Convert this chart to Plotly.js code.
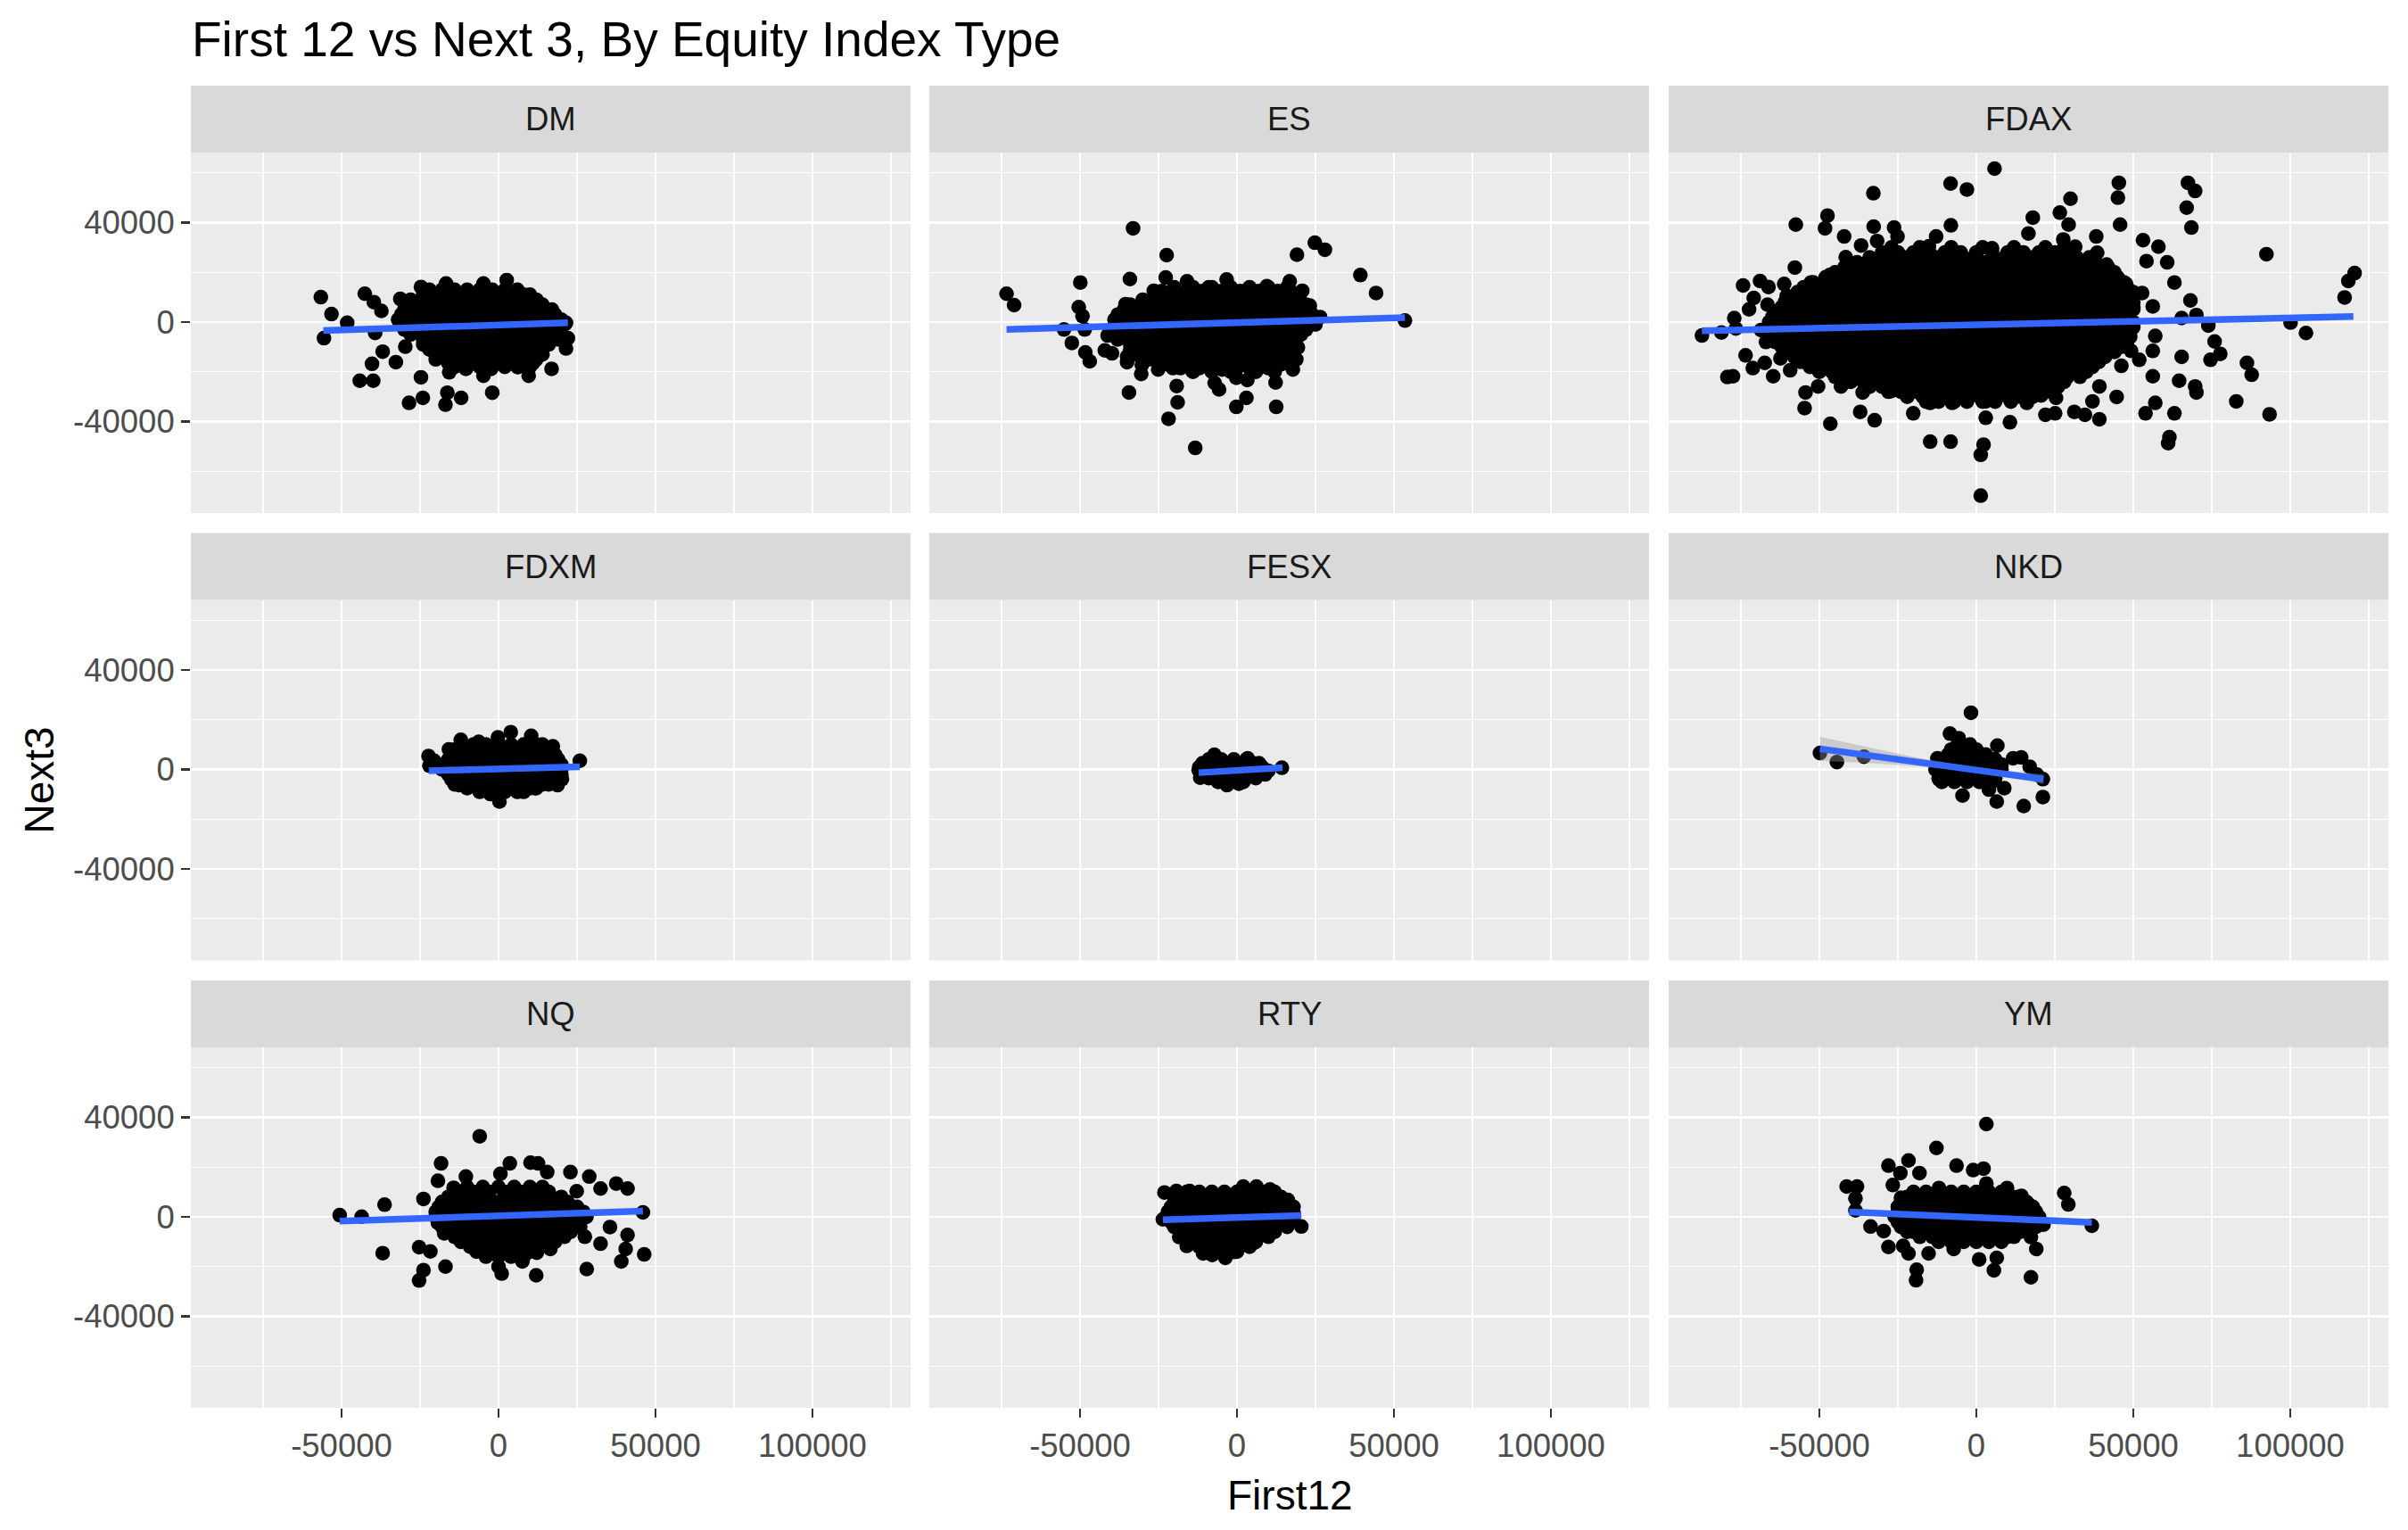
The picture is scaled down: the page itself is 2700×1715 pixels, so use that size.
<!DOCTYPE html>
<html>
<head>
<meta charset="utf-8">
<script src="https://cdn.plot.ly/plotly-3.0.1.min.js"></script>
<style>
  html, body { margin: 0; padding: 0; background: #fff; }
  #chart { width: 2700px; height: 1715px; }
</style>
</head>
<body>
<div id="chart"></div>
<script>
// values are in thousands (First12, Next3)
var panelNames = ['DM', 'ES', 'FDAX', 'FDXM', 'FESX', 'NKD', 'NQ', 'RTY', 'YM'];

// scattered points [x, y]
var dmPts = [[-56.6,10.0],[-53.2,3.2],[-55.6,-6.5],[-48.2,-0.3],[-42.6,11.4],[-39.7,8.0],[-44.2,-23.6],[-39.9,-23.6],
  [-40.3,-16.8],[-36.9,-11.9],[-32.7,-16.1],[-29.7,-9.9],[-28.5,-32.5],[-24.1,-30.5],[-16.9,-33.2],[-16.3,-28.4],
  [-11.9,-30.5],[-2.0,-28.4],[-24.7,-22.2],[-15.7,-20.2],[-10.4,-18.8],[-4.8,-21.6],[-2.4,-18.8],[6.2,-18.1],
  [9.6,-21.6],[16.9,-18.8],[21.5,-10.6],[22.1,-6.5],[21.5,-0.3],[12.2,8.7],[2.6,16.9],[-4.8,15.5],[-16.7,15.5],
  [-24.7,14.1],[-31.3,9.3],[-37.3,4.5],[-39.3,-4.4],[-31.3,-1.0]];
var esPts = [[-73.4,11.4],[-71.0,6.8],[-33.1,37.7],[-22.4,26.9],[-34.1,17.3],[-49.9,15.9],[-50.4,6.0],[-49.2,2.4],
  [-55.1,-3.0],[-52.6,-8.4],[-48.3,-12.2],[-46.9,-15.8],[-48.5,-3.0],[-42.1,-11.4],[-39.8,-12.6],[-35.0,-13.8],
  [-35.0,-16.1],[-34.4,-28.3],[-30.5,-20.9],[-30.3,-17.3],[-25.1,-19.1],[-20.4,-18.5],[-19.2,-25.7],[-18.9,-32.3],
  [-21.8,-38.9],[-13.3,-50.6],[-14.2,-19.7],[-7.1,-24.5],[-5.7,-27.1],[-4.7,-19.1],[-0.2,-22.4],[3.3,-23.3],
  [3.0,-30.5],[-0.2,-34.1],[9.0,-17.9],[12.3,-24.3],[12.5,-34.1],[17.8,-19.1],[18.9,-15.0],[19.4,-10.2],
  [20.4,-5.0],[24.6,0.6],[26.5,2.0],[23.2,6.6],[20.8,12.6],[16.8,16.4],[9.5,14.4],[19.1,27.1],[24.8,31.9],
  [28.0,29.1],[39.3,18.9],[44.3,11.7],[53.5,0.6],[-3.3,17.1],[-15.9,16.4],[-9.0,14.0],[-22.7,17.9],[-26.5,12.6],
  [-35.5,7.2],[-37.9,1.8],[-41.2,-5.4],[3.8,13.2],[14.2,11.4]];
var fdaxPts = [[5.8,61.7],[-8.2,55.7],[-3.0,53.3],[-32.8,51.8],[45.4,56.0],[45.1,50.0],[67.4,56.0],[69.7,52.7],
  [67.0,46.0],[68.5,38.0],[45.8,39.2],[30.0,49.6],[26.6,44.0],[29.4,39.2],[18.0,42.0],[-8.1,38.9],[-32.7,38.4],
  [-47.4,42.8],[-48.2,37.7],[-57.5,39.2],[-42.1,34.4],[-26.2,38.0],[-25.1,34.4],[-12.8,34.4],[-57.8,21.9],
  [92.4,27.3],[120.5,19.7],[118.5,16.5],[117.3,9.9],[53.1,32.9],[58.0,30.3],[54.2,24.5],[60.8,24.0],[38.2,34.4],
  [38.5,27.9],[41.5,23.1],[63.1,15.9],[68.2,8.7],[70.1,2.8],[73.9,-1.4],[100.1,-0.2],[105.0,-4.4],[75.9,-7.8],
  [77.7,-12.8],[74.6,-15.2],[86.2,-16.4],[87.7,-21.2],[82.8,-31.9],[93.4,-37.1],[70.1,-28.3],[69.7,-25.9],
  [64.6,-23.6],[63.1,-36.7],[61.5,-46.3],[61.1,-48.7],[57.0,-32.5],[53.9,-36.7],[56.2,-21.8],[51.9,-15.2],
  [56.2,-11.6],[57.0,-5.6],[65.4,-14.0],[65.4,1.6],[39.2,-39.1],[34.6,-37.3],[31.2,-36.1],[37.0,-31.9],
  [25.1,-36.7],[22.0,-37.3],[25.4,-30.5],[10.7,-40.3],[3.0,-38.5],[2.3,-49.3],[1.4,-53.4],[1.4,-69.8],
  [-8.2,-48.1],[-14.7,-48.1],[-20.1,-36.7],[-32.4,-39.5],[-37.0,-36.1],[-46.5,-40.9],[-54.7,-34.6],[-54.4,-28.3],
  [-50.4,-25.9],[-42.9,-25.3],[-64.7,-21.8],[-77.5,-21.8],[-79.3,-22.1],[-71.2,-18.5],[-67.4,-16.4],[-73.5,-13.4],
  [-87.4,-5.4],[-81.2,-4.2],[-76.6,-2.6],[-77.1,1.6],[-72.4,5.1],[-70.9,9.7],[-74.3,14.7],[-68.9,16.5],
  [-66.2,14.1],[-61.2,15.3],[-60.4,10.5],[-66.5,7.0],[-52.7,15.9],[-46.7,18.9],[-41.6,26.1],[-39.3,23.1],
  [-36.7,30.8],[-31.6,32.6],[-15.1,30.5],[5.0,29.7],[16.6,35.6],[27.7,33.2],[31.5,30.3],[52.8,11.7],[56.2,6.3],
  [47.7,15.3],[50.0,5.1],[47.0,-8.0],[49.3,-11.6],[46.2,-17.6],[44.7,-30.1],[39.2,-25.9],[20.7,-29.5],
  [16.1,-32.5],[3.0,-31.9],[-7.7,-32.5],[-14.7,-32.5],[-27.0,-27.7],[-36.2,-28.3],[-43.1,-25.9],[-59.3,-19.4],
  [-62.4,-14.6],[-67.0,-8.0],[-68.6,-3.2],[-56.3,10.5]];
var fdxmPts = [[-22.3,5.4],[-20.5,3.5],[-22.0,1.5],[-12.0,11.9],[-15.8,8.1],[-0.2,12.9],[3.9,15.0],[10.4,13.5],
  [17.3,9.3],[25.9,3.5],[20.2,-3.9],[18.8,-6.3],[11.6,-7.5],[0.3,-12.9],[-2.6,-9.9],[-12.5,-6.3],[-13.9,-3.9],
  [-6.3,11.1]];
var fesxPts = [[-12.2,-0.3],[-11.7,-3.3],[-7.2,5.9],[-3.2,-6.3],[0.6,-5.7],[7.2,2.1],[14.3,0.7],[3.4,4.5]];
var nkdPts = [[-49.8,6.6],[-44.4,3.0],[-35.8,5.1],[-1.7,22.8],[-8.4,14.4],[-5.6,12.6],[-12.4,4.5],[-11.9,-3.9],
  [-4.4,-10.5],[6.7,9.6],[11.7,4.5],[14.3,4.8],[17.0,1.1],[21.2,-3.9],[19.3,-2.1],[8.9,-7.5],[4.0,-8.1],
  [6.5,-12.9],[15.1,-14.7],[21.2,-11.1],[3.2,-2.7]];
var nqPts = [[-50.6,0.7],[-43.6,0.1],[-36.3,4.9],[-36.9,-14.6],[-25.3,-12.2],[-21.7,-13.9],[-23.9,-21.4],
  [-25.3,-25.6],[-16.9,-20.0],[-23.9,7.2],[-18.3,21.5],[-19.3,14.5],[-10.4,16.2],[-6.0,32.4],[3.6,21.5],
  [0.6,17.3],[10.2,21.8],[12.6,21.5],[15.5,18.0],[22.9,18.0],[28.9,16.2],[32.5,11.4],[37.5,13.4],[41.1,11.4],
  [46.0,1.8],[24.9,10.3],[35.5,-4.1],[41.1,-7.3],[32.5,-10.8],[40.5,-12.9],[39.1,-17.9],[46.4,-15.1],
  [28.1,-21.0],[27.5,-8.0],[12.0,-23.5],[7.6,-17.9],[1.0,-22.8],[0.0,-20.0],[12.2,-14.4],[16.5,-12.9],
  [-17.3,-6.6],[-19.3,-2.4],[-14.3,11.7]];
var rtyPts = [[-23.1,9.8],[-19.3,10.4],[-15.1,10.4],[-23.6,-1.0],[-18.4,-8.1],[-16.0,-11.7],[-10.8,-14.7],
  [-7.9,-15.3],[-3.7,-16.5],[-0.9,-14.1],[5.3,-10.5],[10.0,-7.5],[14.8,-2.8],[20.5,-3.9],[16.2,6.8],[10.5,11.0],
  [6.2,12.2],[2.0,12.2],[0.1,8.0],[-9.4,8.6]];
var ymPts = [[-41.3,12.2],[-38.0,12.2],[-38.5,7.4],[-38.5,2.6],[-33.7,-3.9],[-29.5,-5.7],[-28.0,-12.1],
  [-23.3,-11.7],[-21.6,-14.7],[-19.0,-21.3],[-19.2,-25.5],[-15.2,-14.7],[-7.2,-12.9],[0.9,-17.1],[5.6,-21.5],
  [6.5,-16.5],[17.4,-24.3],[19.1,-12.9],[17.4,-8.1],[21.4,-3.1],[36.8,-3.6],[28.0,9.6],[29.3,5.0],[16.7,5.0],
  [14.4,8.4],[9.8,11.6],[3.2,37.3],[2.3,19.4],[-1.0,18.8],[-6.3,20.6],[-12.7,27.7],[-21.6,22.7],[-28.0,20.6],
  [-24.2,17.6],[-18.1,17.6],[-26.6,12.8],[-24.0,7.7],[-11.9,11.6],[3.2,13.4]];

// dense cores, read as rows: [y, [x, x, ...]]
var dmCore = [
  [13, [-22,-18,-14,-10,-6,-2,2,6]],
  [11, [-24,-20,-16,-12,-8,-4,0,4,8,10]],
  [9, [-28,-24,-20,-16,-12,-8,-4,0,4,8,12]],
  [7, [-28,-26,-22,-18,-14,-10,-6,-2,2,6,10,14]],
  [5, [-30,-26,-22,-18,-14,-10,-6,-2,2,6,10,14,17]],
  [3, [-31,-30,-26,-22,-18,-14,-10,-6,-2,2,6,10,14,18]],
  [1, [-32,-28,-24,-20,-16,-12,-8,-4,0,4,8,12,16,20]],
  [-1, [-31,-30,-26,-22,-18,-14,-10,-6,-2,2,6,10,14,18,21]],
  [-3, [-30,-26,-22,-18,-14,-10,-6,-2,2,6,10,14,18]],
  [-5, [-28,-24,-20,-16,-12,-8,-4,0,4,8,12,16,19]],
  [-7, [-24,-20,-16,-12,-8,-4,0,4,8,12,16,19]],
  [-9, [-24,-20,-16,-12,-8,-4,0,4,8,12,16]],
  [-11, [-22,-18,-14,-10,-6,-2,2,6,10,14]],
  [-13, [-20,-16,-12,-8,-4,0,4,8,12,14]],
  [-15, [-20,-16,-12,-8,-4,0,4,8,12]],
  [-16.5, [-16,-12,-8,-4,0,4,8,11]],
  [-18, [-14,-10,-6,-2,2,6,10]]];
var esCore = [
  [14, [-20,-14,-8,-2,4,10,16]],
  [12.5, [-24,-16,-11,-5,1,7,13,17]],
  [11, [-26,-22,-18,-14,-10,-6,-2,2,6,10,14,18]],
  [9, [-30,-24,-20,-16,-12,-8,-4,0,4,8,12,16,20]],
  [7, [-34,-30,-26,-22,-18,-14,-10,-6,-2,2,6,10,14,18,22]],
  [5, [-36,-32,-28,-24,-20,-16,-12,-8,-4,0,4,8,12,16,20,23]],
  [3, [-38,-36,-32,-28,-24,-20,-16,-12,-8,-4,0,4,8,12,16,20,24]],
  [1, [-39,-34,-30,-26,-22,-18,-14,-10,-6,-2,2,6,10,14,18,22,25]],
  [-1, [-38,-34,-30,-26,-22,-18,-14,-10,-6,-2,2,6,10,14,18,22,25]],
  [-3, [-40,-38,-34,-30,-26,-22,-18,-14,-10,-6,-2,2,6,10,14,18,22]],
  [-5, [-40,-36,-32,-28,-24,-20,-16,-12,-8,-4,0,4,8,12,16,19]],
  [-7, [-38,-34,-30,-26,-22,-18,-14,-10,-6,-2,2,6,10,14,18]],
  [-9, [-34,-30,-26,-22,-18,-14,-10,-6,-2,2,6,10,14,18]],
  [-11, [-34,-30,-26,-22,-18,-14,-10,-6,-2,2,6,10,14,17]],
  [-13, [-32,-28,-24,-20,-16,-12,-8,-4,0,4,8,12,16]],
  [-15, [-28,-24,-20,-16,-12,-8,-4,0,4,8,12,16]],
  [-17, [-22,-18,-14,-10,-6,-2,2,6,10,14]],
  [-18.5, [-18,-12,-6,0,4,10]],
  [-20, [-14,-8,-2,6,12]]];
var fdaxCore = [
  [30, [-27,-18,-8,2,12,22,28]],
  [28, [-30,-25,-20,-15,-10,-5,0,5,10,15,20,25,30]],
  [26, [-34,-31,-27,-22,-18,-13,-9,-4,0,5,9,14,18,23,27,32,36]],
  [24, [-38,-33,-29,-24,-20,-15,-11,-6,-2,3,7,12,16,21,25,30,34,38]],
  [22, [-42,-38,-34,-29,-25,-20,-16,-11,-7,-2,2,7,11,16,20,25,29,34,38,42]],
  [20, [-45,-41,-36,-32,-27,-23,-18,-14,-9,-5,0,4,9,13,18,22,27,31,36,40,44]],
  [18, [-48,-45,-40,-36,-31,-27,-22,-18,-13,-9,-4,0,5,9,14,18,23,27,32,36,41,45]],
  [16, [-52,-47,-43,-38,-34,-29,-25,-20,-16,-11,-7,-2,2,7,11,16,20,25,29,34,38,43,47]],
  [14, [-55,-50,-46,-41,-37,-32,-28,-23,-19,-14,-10,-5,-1,4,8,13,17,22,26,31,35,40,44,48]],
  [12, [-57,-53,-48,-44,-39,-35,-30,-26,-21,-17,-12,-8,-3,1,6,10,15,19,24,28,33,37,42,46,50]],
  [10, [-59,-54,-50,-45,-41,-36,-32,-27,-23,-18,-14,-9,-5,0,4,9,13,18,22,27,31,36,40,45,49]],
  [8, [-61,-56,-52,-47,-43,-38,-34,-29,-25,-20,-16,-11,-7,-2,2,7,11,16,20,25,29,34,38,43,47,50]],
  [6, [-62,-58,-54,-49,-45,-40,-36,-31,-27,-22,-18,-13,-9,-4,0,5,9,14,18,23,27,32,36,41,45,50]],
  [4, [-64,-60,-55,-51,-46,-42,-37,-33,-28,-24,-19,-15,-10,-6,-1,3,8,12,17,21,26,30,35,39,44,48]],
  [2, [-65,-60,-56,-51,-47,-42,-38,-33,-29,-24,-20,-15,-11,-6,-2,3,7,12,16,21,25,30,34,39,43,48]],
  [0, [-66,-62,-57,-53,-48,-44,-39,-35,-30,-26,-21,-17,-12,-8,-3,1,6,10,15,19,24,28,33,37,42,46,50]],
  [-2, [-66,-61,-57,-52,-48,-43,-39,-34,-30,-25,-21,-16,-12,-7,-3,2,6,11,15,20,24,29,33,38,42,47,50]],
  [-4, [-66,-64,-59,-55,-50,-46,-41,-37,-32,-28,-23,-19,-14,-10,-5,-1,4,8,13,17,22,26,31,35,40,44,49]],
  [-6, [-65,-62,-57,-53,-48,-44,-39,-35,-30,-26,-21,-17,-12,-8,-3,1,6,10,15,19,24,28,33,37,42,46,49]],
  [-8, [-64,-60,-55,-51,-46,-42,-37,-33,-28,-24,-19,-15,-10,-6,-1,3,8,12,17,21,26,30,35,39,44,48]],
  [-10, [-62,-58,-53,-49,-44,-40,-35,-31,-26,-22,-17,-13,-8,-4,1,5,10,14,19,23,28,32,37,41,46]],
  [-12, [-60,-56,-51,-47,-42,-38,-33,-29,-24,-20,-15,-11,-6,-2,3,7,12,16,21,25,30,34,39,44]],
  [-14, [-58,-54,-49,-45,-40,-36,-31,-27,-22,-18,-13,-9,-4,0,5,9,14,18,23,27,32,37,41]],
  [-16, [-56,-52,-47,-43,-38,-34,-29,-25,-20,-16,-11,-7,-2,2,7,11,16,20,25,29,34,39]],
  [-18, [-53,-49,-44,-40,-35,-31,-26,-22,-17,-13,-8,-4,1,5,10,14,19,23,28,32,37]],
  [-20, [-50,-46,-41,-37,-32,-28,-23,-19,-14,-10,-5,-1,4,8,13,17,22,26,31,35]],
  [-22, [-45,-43,-39,-34,-30,-25,-21,-16,-12,-7,-3,2,6,11,15,20,24,29,33]],
  [-24, [-40,-36,-31,-27,-22,-18,-13,-9,-4,0,5,9,14,18,23,28]],
  [-26, [-34,-30,-26,-21,-17,-12,-8,-3,1,6,10,15,19,24,26]],
  [-28, [-28,-24,-19,-15,-10,-6,-1,3,8,12,17,22]],
  [-30, [-22,-17,-13,-8,-4,1,5,10,14,18]],
  [-32, [-16,-12,-7,-3,2,6,11]]];
var fdxmCore = [
  [10, [-12,-8,-4,0,4,8,12,14]],
  [8, [-14,-10,-6,-2,2,6,10,14,16]],
  [6, [-14,-10,-6,-2,2,6,10,14,18]],
  [4, [-16,-12,-8,-4,0,4,8,12,16,19]],
  [2, [-18,-14,-10,-6,-2,2,6,10,14,18,20]],
  [0, [-18,-16,-12,-8,-4,0,4,8,12,16,20]],
  [-2, [-16,-12,-8,-4,0,4,8,12,16,20]],
  [-4, [-15,-14,-10,-6,-2,2,6,10,14,18]],
  [-6, [-14,-10,-6,-2,2,6,10,14,16]],
  [-7.5, [-10,-6,-2,2,6,10,12]],
  [-9, [-6,-2,2,6,8]]];
var fesxCore = [
  [4, [-9,-5,-1,3]],
  [2.5, [-11,-7,-3,1,5,7]],
  [1, [-12,-8,-4,0,4,8]],
  [-0.5, [-12,-10,-6,-2,2,6,10]],
  [-2, [-11,-7,-3,1,5,9]],
  [-3.5, [-9,-5,-1,3,6]],
  [-5, [-6,-2,2]]];
var nkdCore = [
  [10, [-6,-2]],
  [8, [-8,-4,0]],
  [6, [-9,-5,-1,3]],
  [4, [-10,-7,-3,1,5,6]],
  [2, [-12,-8,-4,0,4,8]],
  [0, [-13,-10,-6,-2,2,6,8]],
  [-2, [-12,-10,-6,-2,2,6]],
  [-3.5, [-12,-9,-5,-1,3,6]],
  [-5, [-11,-7,-3,1,5]]];
var nqCore = [
  [12, [-10,-5,0,5,10,14]],
  [10, [-13,-8,-3,2,7,12,16]],
  [8, [-16,-12,-7,-3,2,6,11,15,20]],
  [6, [-18,-14,-9,-5,0,4,9,13,18,22]],
  [4, [-19,-15,-10,-6,-1,3,8,12,17,21,25]],
  [2, [-20,-17,-13,-8,-4,1,5,10,14,19,23,27]],
  [0, [-20,-17,-13,-8,-4,1,5,10,14,19,23,28]],
  [-2, [-19,-16,-11,-7,-2,2,7,11,16,20,25]],
  [-4, [-18,-14,-9,-5,0,4,9,13,18,22,26]],
  [-6, [-16,-12,-7,-3,2,6,11,15,20,23]],
  [-8, [-14,-11,-7,-2,2,7,11,16,21]],
  [-10, [-12,-7,-3,2,6,11,15,18]],
  [-12, [-9,-5,0,4,9,13]],
  [-14, [-7,-2,2,6,10]],
  [-16, [-4,0,4,8]]];
var rtyCore = [
  [10, [-16,-12,-8,-4,0,4,8,12]],
  [8, [-18,-14,-10,-6,-2,2,6,10,14]],
  [6, [-20,-18,-14,-10,-6,-2,2,6,10,14,16]],
  [4, [-21,-16,-12,-8,-4,0,4,8,12,16,18]],
  [2, [-22,-20,-16,-12,-8,-4,0,4,8,12,16,18]],
  [0, [-22,-18,-14,-10,-6,-2,2,6,10,14,18]],
  [-2, [-21,-18,-14,-10,-6,-2,2,6,10,14,17]],
  [-4, [-20,-16,-12,-8,-4,0,4,8,12,16]],
  [-6, [-18,-15,-11,-7,-3,1,5,9,12]],
  [-8, [-17,-14,-10,-6,-2,2,6,10]],
  [-10, [-15,-10,-6,-2,2,6]],
  [-12, [-12,-8,-4,0,4]],
  [-14, [-8,-4,0]]];
var ymCore = [
  [10, [-20,-16,-12,-8,-4,0,4,8]],
  [8, [-22,-18,-14,-10,-6,-2,2,6,10,13]],
  [6, [-24,-22,-18,-14,-10,-6,-2,2,6,10,14,16]],
  [4, [-25,-21,-17,-13,-9,-5,-1,3,7,11,15,18]],
  [2, [-25,-20,-16,-12,-8,-4,0,4,8,12,16,19]],
  [0, [-26,-22,-18,-14,-10,-6,-2,2,6,10,14,18,20]],
  [-2, [-25,-22,-18,-14,-10,-6,-2,2,6,10,14,18]],
  [-4, [-24,-20,-16,-12,-8,-4,0,4,8,12,16,19]],
  [-6, [-22,-20,-16,-12,-8,-4,0,4,8,12,14]],
  [-8, [-18,-14,-10,-6,-2,2,6,10,12]],
  [-10, [-12,-8,-4,0,4,8]]];

// lm fits (blue lines), endpoints
var dmFitX = [-55.8, 22.1], dmFitY = [-3.4, -0.3];
var esFitX = [-73.4, 53.5], esFitY = [-3.0, 1.8];
var fdaxFitX = [-87.4, 120.1], fdaxFitY = [-3.5, 2.2];
var fdxmFitX = [-22.2, 25.9], fdxmFitY = [-0.5, 1.1];
var fesxFitX = [-12.2, 14.5], fesxFitY = [-1.3, 0.7];
var nkdFitX = [-49.8, -35, -20, -5, 10, 21.4], nkdFitY = [8.3, 5.8, 3.2, 0.7, -1.9, -3.9];
var nkdLo = [3.5, 2.6, 1.4, -0.4, -3.2, -5.8], nkdHi = [13.1, 9.0, 5.0, 1.8, -0.6, -2.0];
var nqFitX = [-50.6, 46.0], nqFitY = [-1.7, 2.3];
var rtyFitX = [-23.6, 20.5], rtyFitY = [-1.2, 0.5];
var ymFitX = [-40.5, 36.8], ymFitY = [2.0, -2.2];

var xTicks = [-50000, 0, 50000, 100000];
var yTicks = [-40000, 0, 40000];

var panels = [
  {pts: dmPts, core: dmCore, fx: dmFitX, fy: dmFitY},
  {pts: esPts, core: esCore, fx: esFitX, fy: esFitY},
  {pts: fdaxPts, core: fdaxCore, fx: fdaxFitX, fy: fdaxFitY},
  {pts: fdxmPts, core: fdxmCore, fx: fdxmFitX, fy: fdxmFitY},
  {pts: fesxPts, core: fesxCore, fx: fesxFitX, fy: fesxFitY},
  {pts: nkdPts, core: nkdCore, fx: nkdFitX, fy: nkdFitY, lo: nkdLo, hi: nkdHi},
  {pts: nqPts, core: nqCore, fx: nqFitX, fy: nqFitY},
  {pts: rtyPts, core: rtyCore, fx: rtyFitX, fy: rtyFitY},
  {pts: ymPts, core: ymCore, fx: ymFitX, fy: ymFitY}
];

var W = 2700, H = 1715;
var colL = [214, 1042, 1871], colW = 807;
var rowT = [171, 672.5, 1174], rowH = 404, stripH = 75;
var k = function(v) { return v * 1000; };

var traces = [];
var layout = {
  width: W, height: H,
  margin: {l: 0, r: 0, t: 0, b: 0},
  paper_bgcolor: '#FFFFFF',
  plot_bgcolor: '#EBEBEB',
  showlegend: false,
  font: {family: 'Liberation Sans, Arial, sans-serif', color: '#4D4D4D', size: 36.5},
  shapes: [],
  annotations: []
};

panels.forEach(function(p, i) {
  var r = Math.floor(i / 3), c = i % 3;
  var n = i === 0 ? '' : String(i + 1);
  var xa = 'x' + n, ya = 'y' + n;
  var xs = [], ys = [];
  p.core.forEach(function(row) {
    row[1].forEach(function(x) { xs.push(k(x)); ys.push(k(row[0])); });
  });
  p.pts.forEach(function(q) { xs.push(k(q[0])); ys.push(k(q[1])); });

  traces.push({
    type: 'scatter', mode: 'markers', x: xs, y: ys, xaxis: xa, yaxis: ya,
    marker: {color: '#000000', size: 16.5, line: {width: 0}}, hoverinfo: 'skip'
  });
  if (p.lo) {
    traces.push({type: 'scatter', mode: 'lines', x: p.fx.map(k), y: p.lo.map(k), xaxis: xa, yaxis: ya,
      line: {width: 0}, hoverinfo: 'skip'});
    traces.push({type: 'scatter', mode: 'lines', x: p.fx.map(k), y: p.hi.map(k), xaxis: xa, yaxis: ya,
      line: {width: 0}, fill: 'tonexty', fillcolor: 'rgba(153,153,153,0.4)', hoverinfo: 'skip'});
  }
  traces.push({
    type: 'scatter', mode: 'lines', x: p.fx.map(k), y: p.fy.map(k), xaxis: xa, yaxis: ya,
    line: {color: '#3366FF', width: 7.5}, hoverinfo: 'skip'
  });

  var x0 = colL[c], x1 = colL[c] + colW;
  var y0 = rowT[r], y1 = rowT[r] + rowH;
  var bottom = r === 2, left = c === 0;

  layout['xaxis' + n] = {
    domain: [x0 / W, x1 / W], anchor: ya, range: [-98000, 131250],
    tickmode: 'array', tickvals: xTicks, ticktext: xTicks.map(String),
    showticklabels: bottom, ticks: bottom ? 'outside' : '', ticklen: 10, tickwidth: 2.8, tickcolor: '#333333',
    tickfont: {size: 36.5, color: '#4D4D4D'},
    showgrid: true, gridcolor: '#FFFFFF', gridwidth: 2.8, zeroline: false, showline: false,
    minor: {tickmode: 'linear', tick0: -75000, dtick: 50000, showgrid: true, gridcolor: '#FFFFFF', gridwidth: 1.4, ticks: ''},
    fixedrange: true
  };
  layout['yaxis' + n] = {
    domain: [1 - y1 / H, 1 - y0 / H], anchor: xa, range: [-76770, 68160],
    tickmode: 'array', tickvals: yTicks, ticktext: yTicks.map(String),
    showticklabels: left, ticks: left ? 'outside' : '', ticklen: 10, tickwidth: 2.8, tickcolor: '#333333',
    tickfont: {size: 36.5, color: '#4D4D4D'},
    showgrid: true, gridcolor: '#FFFFFF', gridwidth: 2.8, zeroline: false, showline: false,
    minor: {tickmode: 'linear', tick0: -60000, dtick: 40000, showgrid: true, gridcolor: '#FFFFFF', gridwidth: 1.4, ticks: ''},
    fixedrange: true
  };

  // strip
  layout.shapes.push({
    type: 'rect', xref: 'paper', yref: 'paper', layer: 'below',
    x0: x0 / W, x1: x1 / W, y0: 1 - y0 / H, y1: 1 - (y0 - stripH) / H,
    fillcolor: '#D9D9D9', line: {width: 0}
  });
  layout.annotations.push({
    xref: 'paper', yref: 'paper', x: (x0 + x1) / 2 / W, y: 1 - (y0 - stripH / 2) / H,
    xanchor: 'center', yanchor: 'middle', showarrow: false,
    text: panelNames[i], font: {size: 36.5, color: '#1A1A1A'}
  });
});

layout.annotations.push({
  xref: 'paper', yref: 'paper', x: 213 / W, y: 1 - 44 / H, xanchor: 'left', yanchor: 'middle',
  showarrow: false, text: 'First 12 vs Next 3, By Equity Index Type', font: {size: 55, color: '#000000'}
});
layout.annotations.push({
  xref: 'paper', yref: 'paper', x: (214 + 2678) / 2 / W, y: 1 - 1676 / H, xanchor: 'center', yanchor: 'middle',
  showarrow: false, text: 'First12', font: {size: 46, color: '#000000'}
});
layout.annotations.push({
  xref: 'paper', yref: 'paper', x: 43 / W, y: 1 - 874.5 / H, xanchor: 'center', yanchor: 'middle',
  showarrow: false, text: 'Next3', textangle: -90, font: {size: 46, color: '#000000'}
});

Plotly.newPlot('chart', traces, layout, {displayModeBar: false, staticPlot: true});
</script>
</body>
</html>
